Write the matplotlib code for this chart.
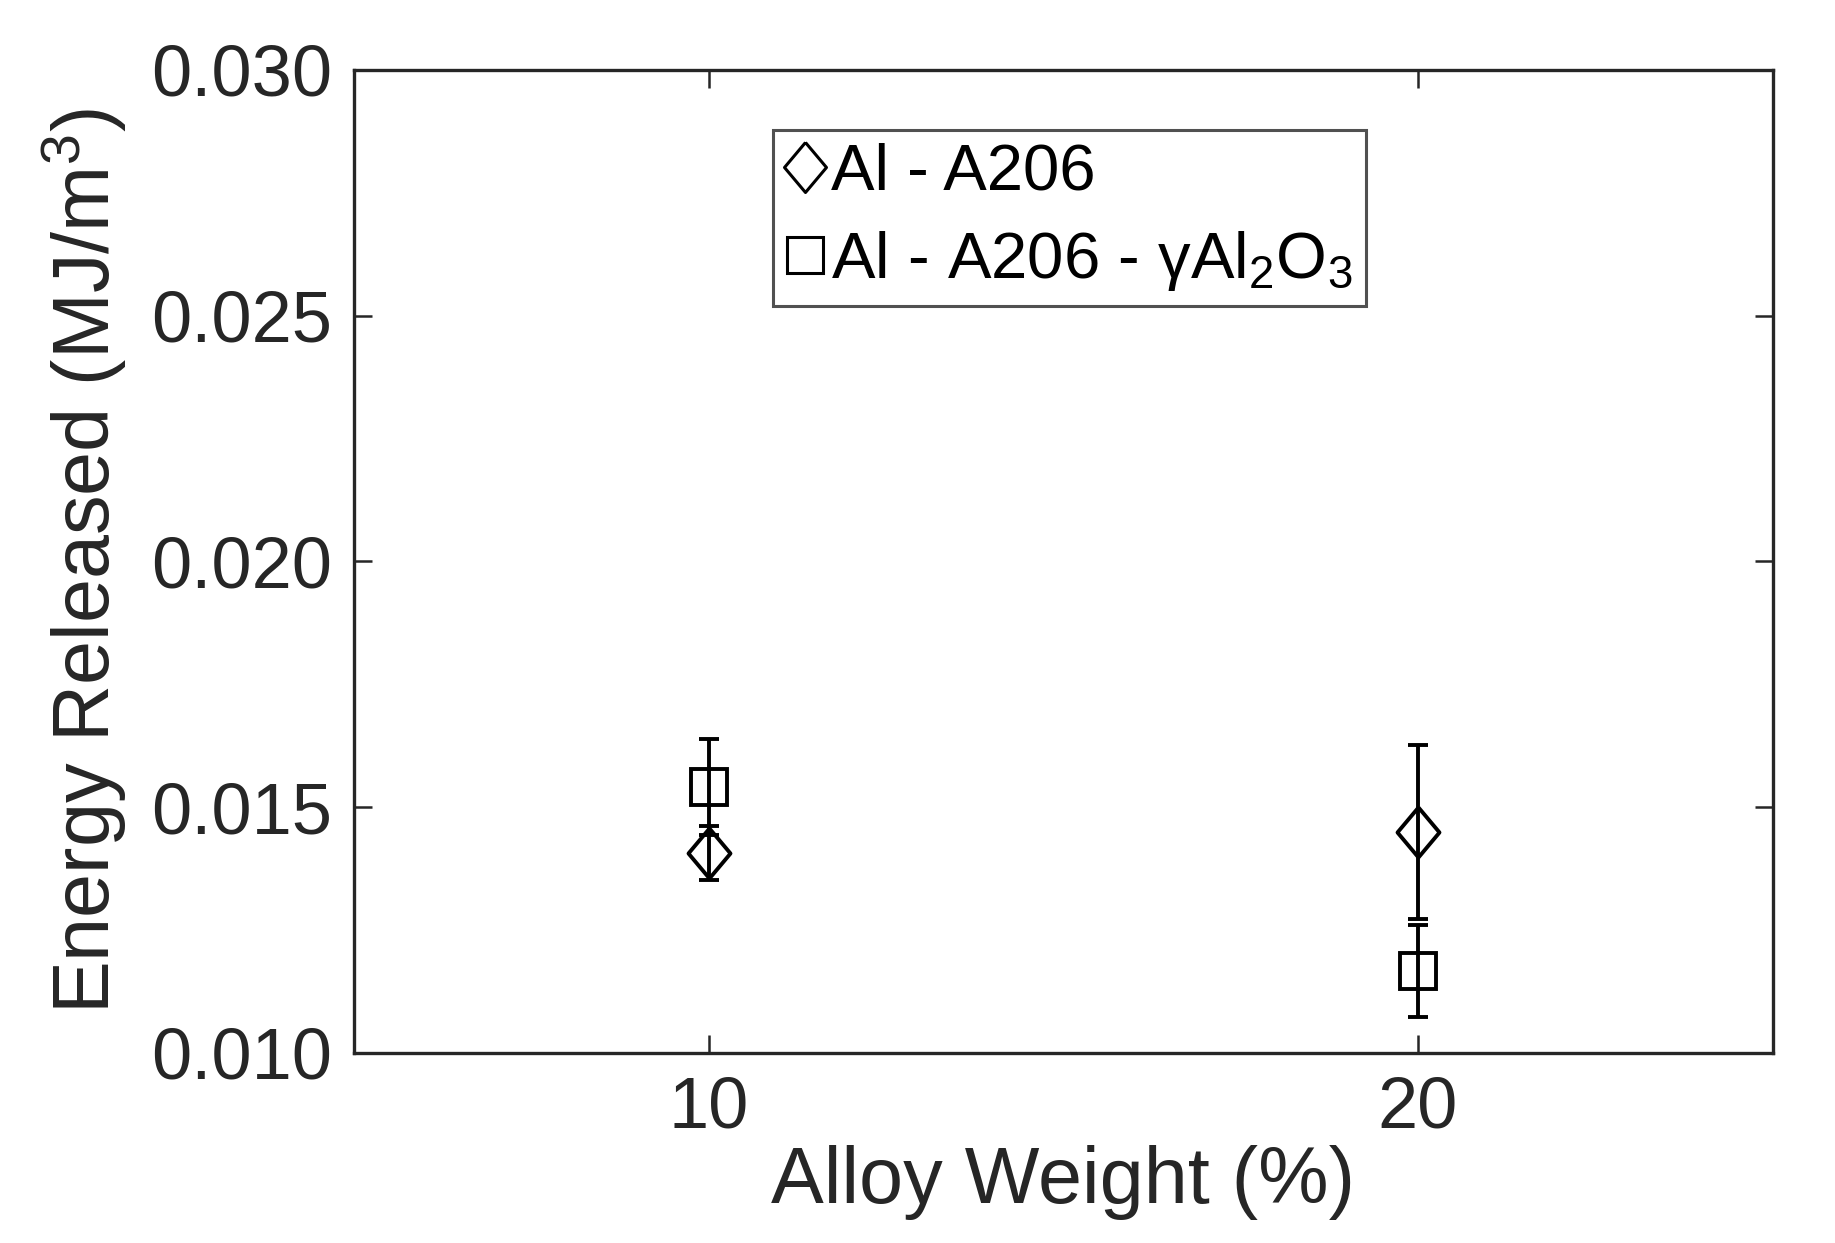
import matplotlib
matplotlib.use("Agg")
import matplotlib.pyplot as plt
from matplotlib.lines import Line2D

plt.rcParams["font.family"] = ["Liberation Sans", "DejaVu Sans"]
plt.rcParams["mathtext.fontset"] = "custom"
plt.rcParams["mathtext.rm"] = "Liberation Sans"
plt.rcParams["mathtext.it"] = "Liberation Sans"

# data
alloy_weight = [10, 20]
energy_a206 = [0.01407, 0.01450]
err_a206 = [0.00055, 0.00177]
energy_a206_al2o3 = [0.01541, 0.01167]
err_a206_al2o3 = [0.00098, 0.00094]

ink = "#262626"
diamond = [(0, 0.5), (0.42, 0), (0, -0.5), (-0.42, 0), (0, 0.5)]

fig = plt.figure(figsize=(18.35, 12.43), dpi=100)
ax = fig.add_axes([0.193, 0.153, 0.773, 0.7907])

ax.errorbar(alloy_weight, energy_a206, yerr=err_a206, fmt="none",
            ecolor="black", elinewidth=2.8, capsize=7, capthick=2.8)
ax.errorbar(alloy_weight, energy_a206_al2o3, yerr=err_a206_al2o3, fmt="none",
            ecolor="black", elinewidth=2.8, capsize=7, capthick=2.8)
ax.plot(alloy_weight, energy_a206, linestyle="none", marker=diamond,
        markersize=36, markerfacecolor="none", markeredgecolor="black",
        markeredgewidth=2.8)
ax.plot(alloy_weight, energy_a206_al2o3, linestyle="none", marker="s",
        markersize=26, markerfacecolor="none", markeredgecolor="black",
        markeredgewidth=2.8)

ax.set_xlim(5, 25)
ax.set_ylim(0.010, 0.030)
ax.set_xticks([10, 20])
ax.set_yticks([0.010, 0.015, 0.020, 0.025, 0.030])
ax.set_yticklabels(["0.010", "0.015", "0.020", "0.025", "0.030"])

ax.tick_params(direction="in", length=13, width=1.8, colors=ink,
               labelsize=52, top=True, right=True, pad=16)
for s in ax.spines.values():
    s.set_linewidth(2.4)
    s.set_color(ink)

ax.set_xlabel("Alloy Weight (%)", fontsize=57, color=ink, labelpad=2)
ax.set_ylabel("Energy Released (MJ/m$^3$)", fontsize=57, color=ink, labelpad=16)

handles = [
    Line2D([], [], linestyle="none", marker=diamond, markersize=36,
           markerfacecolor="none", markeredgecolor="black", markeredgewidth=2.2),
    Line2D([], [], linestyle="none", marker="s", markersize=26,
           markerfacecolor="none", markeredgecolor="black", markeredgewidth=2.2),
]
leg = ax.legend(handles, ["Al - A206", "Al - A206 - γAl$_2$O$_3$"],
                loc="upper left", bbox_to_anchor=(0.295, 0.939),
                fontsize=47, frameon=True, fancybox=False,
                handlelength=0.6, handletextpad=0.1, borderpad=0.2,
                labelspacing=0.4, borderaxespad=0)
leg.get_frame().set_edgecolor(ink)
leg.get_frame().set_linewidth(2.2)

fig.savefig("out.png", dpi=100, facecolor="white")
